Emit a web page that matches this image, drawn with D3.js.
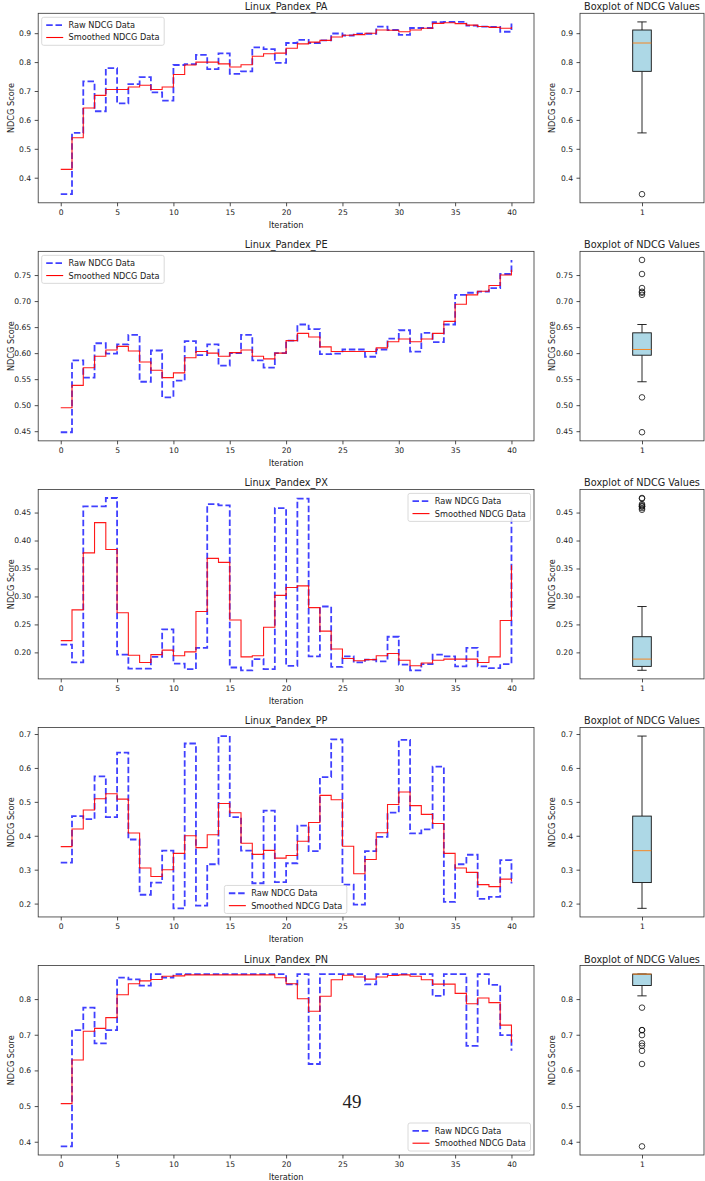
<!DOCTYPE html>
<html>
<head>
<meta charset="utf-8">
<script src="https://cdn.jsdelivr.net/npm/d3@7"></script>
<style>
body { margin: 0; background: #fff; }
svg { display: block; }
text { font-family: "DejaVu Sans", sans-serif; fill: #222; }
</style>
</head>
<body>
<svg id="chart" width="705" height="1181"></svg>
<script>
// titles of the five runs
const titles = ["Linux_Pandex_PA", "Linux_Pandex_PE", "Linux_Pandex_PX", "Linux_Pandex_PP", "Linux_Pandex_PN"]
const boxTitle = "Boxplot of NDCG Values"

// raw + smoothed NDCG, iterations 0..40
const rawPA = [0.343,0.555,0.733,0.630,0.779,0.657,0.724,0.748,0.695,0.667,0.790,0.793,0.825,0.776,0.830,0.759,0.768,0.851,0.845,0.797,0.866,0.877,0.866,0.875,0.899,0.892,0.898,0.898,0.923,0.911,0.894,0.918,0.918,0.938,0.939,0.939,0.926,0.923,0.922,0.905,0.934]
const smoothPA = [0.429,0.538,0.641,0.685,0.705,0.705,0.714,0.720,0.705,0.714,0.757,0.790,0.800,0.800,0.794,0.783,0.791,0.820,0.829,0.831,0.848,0.863,0.869,0.875,0.887,0.893,0.895,0.900,0.911,0.910,0.905,0.911,0.917,0.934,0.936,0.933,0.928,0.923,0.920,0.917,0.921]

const rawPE = [0.448,0.586,0.553,0.619,0.599,0.617,0.635,0.545,0.605,0.515,0.547,0.623,0.596,0.617,0.576,0.600,0.635,0.586,0.572,0.600,0.624,0.655,0.646,0.598,0.599,0.607,0.607,0.593,0.607,0.628,0.644,0.603,0.639,0.621,0.655,0.712,0.716,0.718,0.725,0.752,0.779]
const smoothPE = [0.495,0.538,0.572,0.594,0.606,0.613,0.604,0.583,0.567,0.553,0.562,0.591,0.603,0.600,0.594,0.601,0.606,0.594,0.589,0.600,0.624,0.638,0.631,0.612,0.603,0.603,0.603,0.603,0.610,0.622,0.627,0.622,0.627,0.638,0.661,0.694,0.712,0.719,0.730,0.750,0.760]

const rawPX = [0.214,0.182,0.461,0.461,0.476,0.196,0.171,0.171,0.192,0.241,0.180,0.170,0.208,0.465,0.463,0.173,0.168,0.188,0.170,0.458,0.176,0.475,0.193,0.282,0.174,0.193,0.182,0.187,0.184,0.228,0.178,0.168,0.179,0.196,0.193,0.175,0.208,0.175,0.172,0.179,0.455]
const smoothPX = [0.221,0.276,0.378,0.432,0.384,0.271,0.195,0.182,0.196,0.204,0.194,0.201,0.273,0.368,0.361,0.258,0.192,0.194,0.245,0.302,0.316,0.319,0.280,0.238,0.206,0.189,0.185,0.187,0.194,0.198,0.186,0.176,0.181,0.186,0.188,0.188,0.188,0.182,0.192,0.257,0.356]

const rawPP = [0.321,0.458,0.449,0.575,0.455,0.645,0.389,0.226,0.262,0.356,0.186,0.672,0.194,0.316,0.694,0.455,0.356,0.260,0.474,0.263,0.319,0.430,0.355,0.573,0.684,0.256,0.197,0.355,0.397,0.468,0.683,0.407,0.419,0.604,0.205,0.316,0.344,0.214,0.220,0.328,0.259]
const smoothPP = [0.368,0.420,0.476,0.509,0.524,0.508,0.408,0.305,0.280,0.300,0.348,0.400,0.365,0.403,0.495,0.468,0.378,0.345,0.357,0.334,0.342,0.384,0.439,0.519,0.506,0.369,0.288,0.330,0.409,0.492,0.529,0.489,0.463,0.436,0.348,0.305,0.292,0.256,0.250,0.272,0.265]

const rawPN = [0.387,0.713,0.776,0.676,0.713,0.860,0.855,0.838,0.870,0.860,0.870,0.870,0.870,0.870,0.870,0.870,0.870,0.870,0.870,0.870,0.841,0.870,0.618,0.870,0.870,0.870,0.870,0.841,0.870,0.870,0.870,0.870,0.870,0.809,0.870,0.870,0.669,0.870,0.840,0.699,0.655]
const smoothPN = [0.507,0.629,0.710,0.718,0.748,0.812,0.843,0.851,0.855,0.864,0.865,0.868,0.868,0.868,0.868,0.868,0.868,0.868,0.868,0.860,0.843,0.801,0.766,0.808,0.854,0.867,0.862,0.856,0.862,0.866,0.868,0.864,0.854,0.842,0.842,0.816,0.787,0.803,0.790,0.727,0.678]

// tick labels
const xTicks = [0, 5, 10, 15, 20, 25, 30, 35, 40]
const yTicksPA = [0.4, 0.5, 0.6, 0.7, 0.8, 0.9]
const yTicksPE = [0.45, 0.50, 0.55, 0.60, 0.65, 0.70, 0.75]
const yTicksPX = [0.20, 0.25, 0.30, 0.35, 0.40, 0.45]
const yTicksPP = [0.2, 0.3, 0.4, 0.5, 0.6, 0.7]
const yTicksPN = [0.4, 0.5, 0.6, 0.7, 0.8]
const legendLabels = ["Raw NDCG Data", "Smoothed NDCG Data"]

const rows = [
  { raw: rawPA, smooth: smoothPA, ticks: yTicksPA, fmt: ".1f", legend: "upper left" },
  { raw: rawPE, smooth: smoothPE, ticks: yTicksPE, fmt: ".2f", legend: "upper left" },
  { raw: rawPX, smooth: smoothPX, ticks: yTicksPX, fmt: ".2f", legend: "upper right" },
  { raw: rawPP, smooth: smoothPP, ticks: yTicksPP, fmt: ".1f", legend: "lower center" },
  { raw: rawPN, smooth: smoothPN, ticks: yTicksPN, fmt: ".1f", legend: "lower right" }
]

const svg = d3.select('#chart')

// layout (pixels)
const lineL = 38.2, lineR = 534
const boxL = 580, boxR = 704
const top0 = 13.3, rowStep = 238.05, panelH = 189.5
const tickFont = 7.6, labelFont = 8.2, titleFont = 9.7

const x = d3.scaleLinear().domain([-2, 42]).range([lineL, lineR])
const bx = d3.scaleLinear().domain([0.5, 1.5]).range([boxL, boxR])

const stepLine = (y) => d3.line()
  .x((d, i) => x(i))
  .y(d => y(d))
  .curve(d3.curveStepAfter)

function styleAxis(g) {
  g.select('.domain').remove()
  g.selectAll('.tick line').attr('stroke', '#222').attr('stroke-width', 0.8)
  g.selectAll('.tick text').attr('font-size', tickFont).attr('fill', '#222')
    .style('font-family', '"DejaVu Sans", sans-serif')
}

function drawLegend(g, where, top, bottom) {
  const w = 122.5, h = 28
  let lx, ly
  if (where == "upper left") { lx = lineL + 3.5; ly = top + 4 }
  else if (where == "upper right") { lx = lineR - 3.5 - w; ly = top + 4 }
  else if (where == "lower center") { lx = (lineL + lineR) / 2 - w / 2 - 0.5; ly = bottom - 3.5 - h }
  else { lx = lineR - 3.5 - w; ly = bottom - 4 - h }
  const lg = g.append('g').attr('transform', `translate(${lx},${ly})`)
  lg.append('rect').attr('width', w).attr('height', h).attr('rx', 2)
    .attr('fill', 'white').attr('fill-opacity', 0.8)
    .attr('stroke', '#d0d0d0').attr('stroke-width', 0.8)
  lg.append('line').attr('x1', 4.5).attr('x2', 21.5).attr('y1', 7.8).attr('y2', 7.8)
    .attr('stroke', 'blue').attr('stroke-opacity', 0.75).attr('stroke-width', 1.8)
    .attr('stroke-dasharray', '6.5,2.8')
  lg.append('line').attr('x1', 4.5).attr('x2', 21.5).attr('y1', 20.2).attr('y2', 20.2)
    .attr('stroke', '#ff0000').attr('stroke-width', 1.1)
  lg.selectAll('text.lab').data(legendLabels).enter().append('text')
    .attr('class', 'lab')
    .attr('x', 26.8).attr('y', (d, i) => 10.8 + i * 12.4)
    .attr('font-size', labelFont)
    .text(d => d)
}

rows.forEach((r, i) => {
  const top = top0 + i * rowStep
  const bottom = top + panelH
  const g = svg.append('g')

  const ext = d3.extent(r.raw.concat(r.smooth))
  const pad = (ext[1] - ext[0]) * 0.05
  const y = d3.scaleLinear().domain([ext[0] - pad, ext[1] + pad]).range([bottom, top])

  // ---- step lines
  g.append('path').datum(r.raw)
    .attr('d', stepLine(y))
    .attr('fill', 'none').attr('stroke', 'blue').attr('stroke-opacity', 0.75)
    .attr('stroke-width', 1.8).attr('stroke-dasharray', '6.5,2.8')
  g.append('path').datum(r.smooth)
    .attr('d', stepLine(y))
    .attr('fill', 'none').attr('stroke', 'red').attr('stroke-opacity', 0.9)
    .attr('stroke-width', 1.1)

  g.append('rect').attr('x', lineL).attr('y', top).attr('width', lineR - lineL).attr('height', panelH)
    .attr('fill', 'none').attr('stroke', '#333').attr('stroke-width', 0.8)

  g.append('g').attr('transform', `translate(0,${bottom})`)
    .call(d3.axisBottom(x).tickValues(xTicks).tickSize(3.5).tickPadding(3))
    .call(styleAxis)
  g.append('g').attr('transform', `translate(${lineL},0)`)
    .call(d3.axisLeft(y).tickValues(r.ticks).tickFormat(d3.format(r.fmt)).tickSize(3.5).tickPadding(3.5))
    .call(styleAxis)

  g.append('text').attr('x', (lineL + lineR) / 2).attr('y', top - 3)
    .attr('text-anchor', 'middle').attr('font-size', titleFont).text(titles[i])
  g.append('text').attr('x', (lineL + lineR) / 2).attr('y', bottom + 25)
    .attr('text-anchor', 'middle').attr('font-size', labelFont).text("Iteration")
  g.append('text').attr('transform', `translate(13.5,${(top + bottom) / 2}) rotate(-90)`)
    .attr('text-anchor', 'middle').attr('font-size', labelFont).text("NDCG Score")

  drawLegend(g, r.legend, top, bottom)

  // ---- boxplot of raw values
  const rext = d3.extent(r.raw)
  const rpad = (rext[1] - rext[0]) * 0.05
  const yb = d3.scaleLinear().domain([rext[0] - rpad, rext[1] + rpad]).range([bottom, top])
  const sorted = r.raw.slice().sort(d3.ascending)
  const q1 = d3.quantile(sorted, 0.25), med = d3.quantile(sorted, 0.5), q3 = d3.quantile(sorted, 0.75)
  const iqr = q3 - q1
  const wLo = d3.min(sorted.filter(v => v >= q1 - 1.5 * iqr))
  const wHi = d3.max(sorted.filter(v => v <= q3 + 1.5 * iqr))
  const fliers = sorted.filter(v => v < wLo || v > wHi)
  const bw = 0.15

  g.append('line').attr('x1', bx(1)).attr('x2', bx(1)).attr('y1', yb(q1)).attr('y2', yb(wLo))
    .attr('stroke', '#111').attr('stroke-width', 0.9)
  g.append('line').attr('x1', bx(1)).attr('x2', bx(1)).attr('y1', yb(q3)).attr('y2', yb(wHi))
    .attr('stroke', '#111').attr('stroke-width', 0.9)
  g.selectAll('line.cap').data([wLo, wHi]).enter().append('line').attr('class', 'cap')
    .attr('x1', bx(1 - bw / 4)).attr('x2', bx(1 + bw / 4))
    .attr('y1', d => yb(d)).attr('y2', d => yb(d))
    .attr('stroke', '#111').attr('stroke-width', 0.9)
  g.append('rect').attr('x', bx(1 - bw / 2)).attr('y', yb(q3))
    .attr('width', bx(1 + bw / 2) - bx(1 - bw / 2)).attr('height', yb(q1) - yb(q3))
    .attr('fill', 'lightblue').attr('stroke', '#111').attr('stroke-width', 0.9)
  g.append('line').attr('x1', bx(1 - bw / 2)).attr('x2', bx(1 + bw / 2))
    .attr('y1', yb(med)).attr('y2', yb(med))
    .attr('stroke', '#ff7f0e').attr('stroke-width', 0.9)
  g.selectAll('circle.flier').data(fliers).enter().append('circle').attr('class', 'flier')
    .attr('cx', bx(1)).attr('cy', d => yb(d)).attr('r', 2.8)
    .attr('fill', 'none').attr('stroke', '#111').attr('stroke-width', 0.8)

  g.append('rect').attr('x', boxL).attr('y', top).attr('width', boxR - boxL).attr('height', panelH)
    .attr('fill', 'none').attr('stroke', '#333').attr('stroke-width', 0.8)
  g.append('g').attr('transform', `translate(0,${bottom})`)
    .call(d3.axisBottom(bx).tickValues([1]).tickFormat(d3.format("d")).tickSize(3.5).tickPadding(3))
    .call(styleAxis)
  g.append('g').attr('transform', `translate(${boxL},0)`)
    .call(d3.axisLeft(yb).tickValues(r.ticks).tickFormat(d3.format(r.fmt)).tickSize(3.5).tickPadding(3.5))
    .call(styleAxis)
  g.append('text').attr('x', (boxL + boxR) / 2).attr('y', top - 3)
    .attr('text-anchor', 'middle').attr('font-size', titleFont).text(boxTitle)
  g.append('text').attr('transform', `translate(555,${(top + bottom) / 2}) rotate(-90)`)
    .attr('text-anchor', 'middle').attr('font-size', labelFont).text("NDCG Score")
})

// page number from the source document
svg.append('text').attr('x', 352).attr('y', 1108)
  .attr('text-anchor', 'middle')
  .style('font-family', '"Liberation Serif", serif')
  .attr('font-size', 19).text("49")
</script>
</body>
</html>
